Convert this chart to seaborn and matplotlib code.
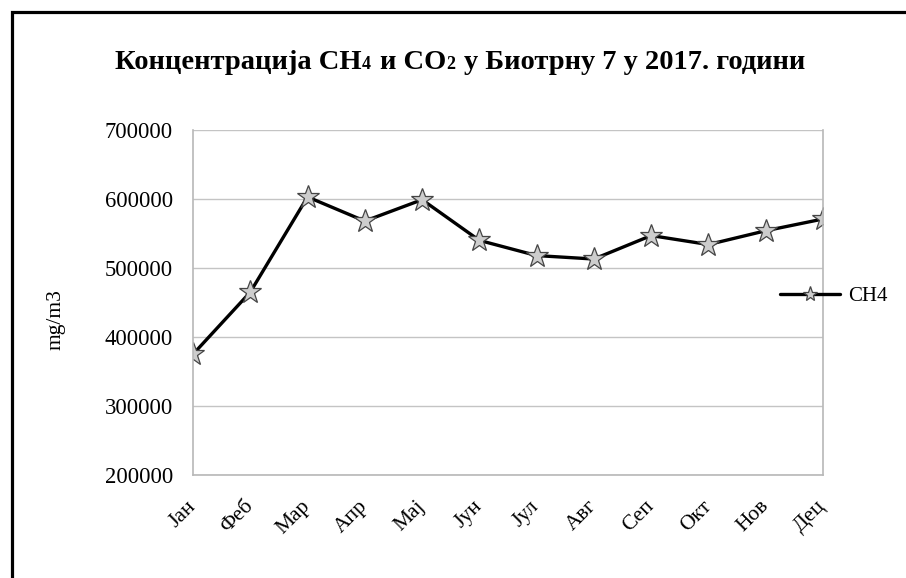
import numpy as np
import pandas as pd
import matplotlib
matplotlib.use("Agg")
import matplotlib.pyplot as plt
import seaborn as sns
from matplotlib.patches import Rectangle

months = ["Јан", "Феб", "Мар", "Апр", "Мај", "Јун", "Јул", "Авг", "Сеп", "Окт", "Нов", "Дец"]
ch4 = [375000, 465000, 603000, 568000, 599000, 540000, 518000, 513000, 547000, 534000, 554000, 571000]
yticks = [200000, 300000, 400000, 500000, 600000, 700000]
series_name = "CH4"
ylabel = "mg/m3"
title_parts = [("Концентрација CH", False), ("4", True), (" и CO", False), ("2", True),
               (" у Биотрну 7 у 2017. години", False)]

sns.set_style("white")
plt.rcParams["font.family"] = ["Liberation Serif", "DejaVu Serif"]
plt.rcParams["text.color"] = "black"
plt.rcParams["xtick.color"] = "black"
plt.rcParams["ytick.color"] = "black"

W, H = 906, 578
fig = plt.figure(figsize=(W / 100, H / 100), dpi=100)
ax = fig.add_axes([193 / W, 103 / H, 630 / W, 345 / H])

df = pd.DataFrame({"month": months, "val": ch4})
sns.lineplot(data=df, x="month", y="val", ax=ax, color="black", lw=2.4,
             marker="*", markersize=17, markerfacecolor="#cdcdcd",
             markeredgecolor="#454545", markeredgewidth=0.9,
             label=series_name, sort=False)

ax.set_xlim(0, len(months) - 1)
ax.set_ylim(yticks[0], yticks[-1])
ax.set_yticks(yticks)
ax.set_yticklabels([str(v) for v in yticks])
ax.set_xlabel("")
ax.set_ylabel("")
ax.grid(axis="y", color="#c4c4c4", lw=1)
ax.grid(axis="x", visible=False)
ax.set_axisbelow(True)
for s in ["left", "bottom", "right"]:
    ax.spines[s].set_color("#b8b8b8")
    ax.spines[s].set_linewidth(1.2)
ax.spines["top"].set_visible(False)
ax.tick_params(axis="both", direction="out", length=7.5, width=1, color="#b8b8b8",
               labelcolor="black")
ax.tick_params(axis="y", pad=7, labelsize=16.3)
ax.tick_params(axis="x", pad=13, labelsize=15.5)
for lab in ax.get_xticklabels():
    lab.set_rotation(45)
    lab.set_ha("right")
    lab.set_va("center")
    lab.set_rotation_mode("anchor")

leg = ax.legend(loc="center left", bbox_to_anchor=(780 / W, 1 - 296 / H),
                bbox_transform=fig.transFigure, frameon=False, handlelength=2.9,
                handletextpad=0.35, borderpad=0, borderaxespad=0, fontsize=15, numpoints=1)
for h in leg.legend_handles:
    h.set_markersize(11)

fig.text(56 / W, 1 - 320 / H, ylabel, rotation=90, ha="center", va="center", fontsize=15.5)

# outer border (left and top visible, rest runs off the image)
fig.add_artist(Rectangle((11.5 / W, -0.5), 2, (H - 11.5) / H + 0.5, transform=fig.transFigure,
                         fill=False, ec="black", lw=2.3, clip_on=False))

# title with small baseline digits
big, small = 20.5, 13
fig.canvas.draw()
r = fig.canvas.get_renderer()
texts = []
for s, is_small in title_parts:
    t = fig.text(0, 1 - 69 / H, s, fontsize=small if is_small else big, fontweight="bold",
                 ha="left", va="baseline", color="black")
    texts.append(t)
probe_a = fig.text(0, 0, "a a", fontsize=big, fontweight="bold")
probe_b = fig.text(0, 0, "aa", fontsize=big, fontweight="bold")
space_w = probe_a.get_window_extent(r).width - probe_b.get_window_extent(r).width
probe_a.remove(); probe_b.remove()
widths = []
for (s, _), t in zip(title_parts, texts):
    stripped = s.lstrip(" ")
    t.set_text(stripped)
    lead = (len(s) - len(stripped)) * space_w * 1.3
    widths.append((lead, t.get_window_extent(r).width))
total = sum(a + b for a, b in widths)
x = 460 - total / 2
for (lead, w), t in zip(widths, texts):
    x += lead
    t.set_x(x / W)
    x += w

fig.savefig("out.png", dpi=100)
